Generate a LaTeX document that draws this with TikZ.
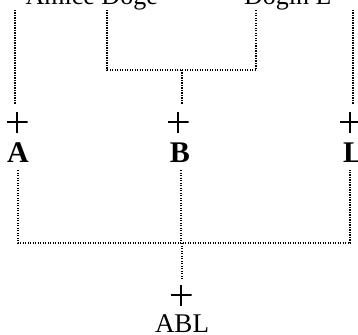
\documentclass[tikz,border=0pt]{standalone}
\usepackage{fontspec}
\setmainfont{Liberation Serif}
\begin{document}
\begin{tikzpicture}[x=1pt,y=-1pt,
  dot/.style={line width=1.2pt, dash pattern=on 1.4pt off 1.1pt},
  lab/.style={font=\fontsize{30}{30}\selectfont\bfseries, inner sep=0pt},
  toplab/.style={font=\fontsize{26}{26}\selectfont, inner sep=0pt},
  cross/.style={minimum size=21pt, inner sep=0pt, path picture={
      \draw[line width=1.3pt] (path picture bounding box.north) -- (path picture bounding box.south)
        (path picture bounding box.west) -- (path picture bounding box.east);}}]
\useasboundingbox (0,0) rectangle (358,334);
\clip (0,0) rectangle (358,334);
% top texts (cut off at the top edge)
\node[toplab, anchor=base east] (t1) at (158,5) {Amice Doge};
\node[toplab, anchor=base west] (t2) at (244,5) {Dogin L};
% line tops
\coordinate (a0) at (15,10);
\coordinate (d0) at (107,10);
\coordinate (e0) at (256,10);
\coordinate (l0) at (353,10);
\coordinate (de) at (107,70);
\coordinate (ed) at (256,70);
\coordinate (m1) at (182,70);
% plus signs and labels
\node[cross] (pA) at (17,122) {};
\node[cross] (pB) at (178,122) {};
\node[cross] (pL) at (350,122) {};
\node[lab, anchor=base] (A) at (18,162) {A};
\node[lab, anchor=base] (B) at (180,162) {B};
\node[lab, anchor=base] (L) at (353,162) {L};
% lower bus
\coordinate (ab) at (18,243);
\coordinate (lb) at (350,243);
\coordinate (m2) at (182,243);
\node[cross] (pABL) at (181,295) {};
\node[font=\fontsize{27}{27}\selectfont, inner sep=0pt, anchor=base] (ABL) at (182,332) {ABL};
% connectors
\draw[dot] (a0) -- (15,104);
\draw[dot] (l0) -- (353,104);
\draw[dot] (d0) -- (de) -- (ed) -- (e0);
\draw[dot] (m1) -- (182,104);
\draw[dot] (18,170) -- (ab) -- (lb) -- (350,170);
\draw[dot] (181,170) -- (181,243);
\draw[dot] (m2) -- (182,279);
\end{tikzpicture}
\end{document}
